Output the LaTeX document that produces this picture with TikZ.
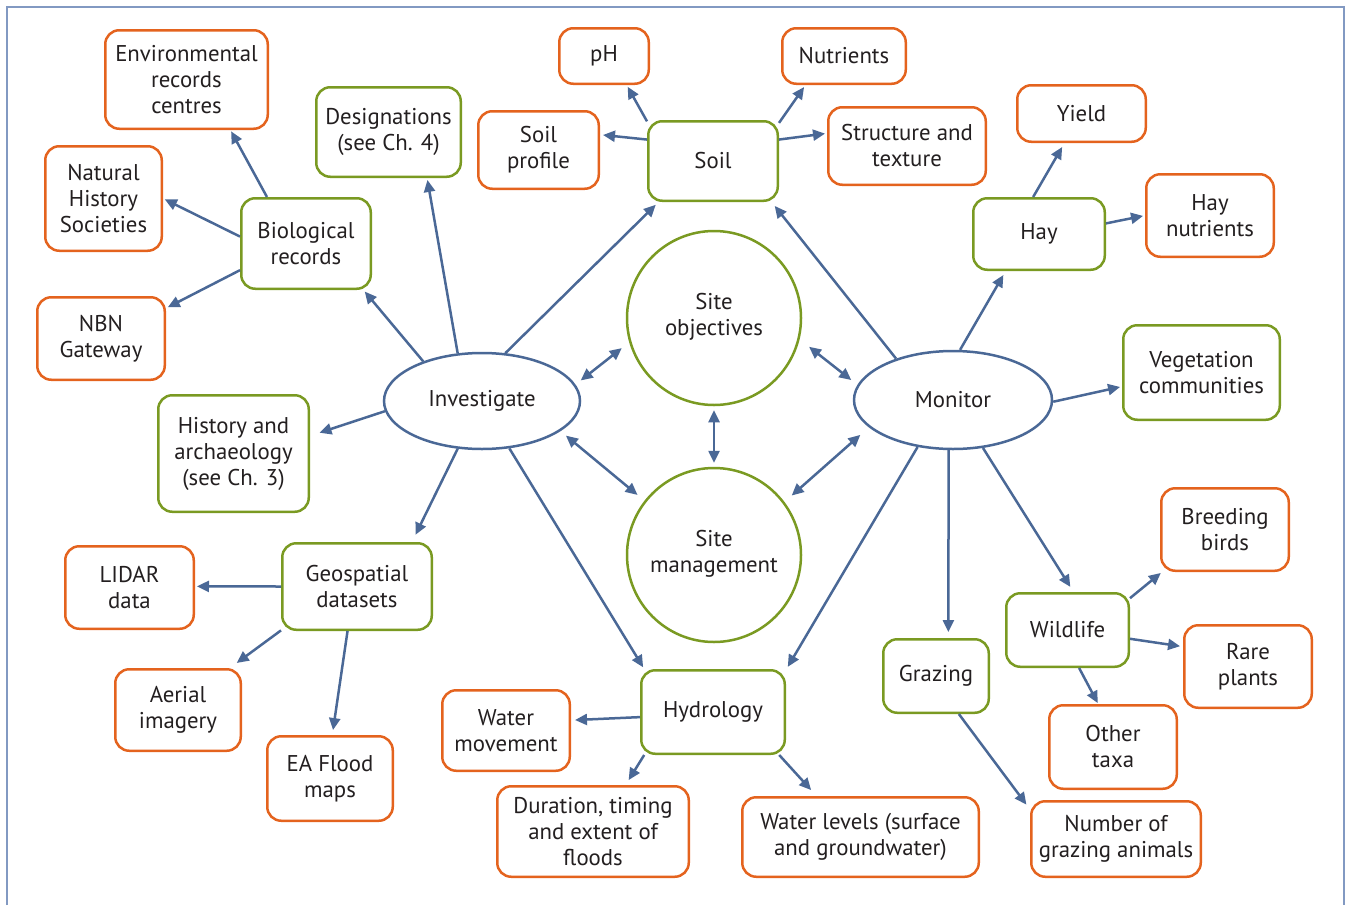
\documentclass[tikz,border=0pt]{standalone}
\usepackage{fontspec}
\setmainfont{PT Sans}
\usetikzlibrary{arrows.meta,shapes.geometric}
\definecolor{orng}{HTML}{E4631E}
\definecolor{grn}{HTML}{7A9A22}
\definecolor{blu}{HTML}{4A6896}
\definecolor{frm}{HTML}{8299C2}
\definecolor{txt}{HTML}{231F20}
\begin{document}
\begin{tikzpicture}[x=1pt,y=-1pt,
  every node/.style={font=\fontsize{22.8}{26}\selectfont, text=txt, align=center, inner sep=2pt},
  sz/.style 2 args={minimum width={#1pt-2.5pt}, minimum height={#2pt-2.5pt}},
  obox/.style={draw=orng, line width=2.5pt, rounded corners=14pt, fill=white},
  gbox/.style={draw=grn, line width=2.5pt, rounded corners=14pt, fill=white},
  circ/.style={circle, draw=grn, line width=2.5pt, minimum size=174pt, inner sep=0pt},
  ell/.style={ellipse, draw=blu, line width=2.5pt, inner sep=0pt},
  arr/.style={draw=blu, line width=2.5pt, -{Triangle[length=12pt,width=11pt]}},
  darr/.style={draw=blu, line width=2.5pt, {Triangle[length=12pt,width=11pt]}-{Triangle[length=12pt,width=11pt]}}]
\useasboundingbox (0,0) rectangle (1346,905);
\draw[frm, line width=2pt] (7,905) -- (7,7) -- (1344,7) -- (1344,905);

% central
\node[circ] (sobj) at (714,318) {Site\\objectives\\[-19pt]};
\node[circ] (smgt) at (714,555) {Site\\management\\[-19pt]};
\node[ell, minimum width=196pt, minimum height=96pt] (inv) at (482,401) {Investigate};
\node[ell, minimum width=198pt, minimum height=98pt] (mon) at (953,400) {Monitor};

% green boxes
\node[gbox, sz={147}{92}] (desig) at (388.5,132) {Designations\\(see Ch. 4)};
\node[gbox, sz={132}{93}] (bio) at (306,243.5) {Biological\\records};
\node[gbox, sz={132}{82}] (soil) at (713,161) {Soil};
\node[gbox, sz={134}{74}] (hay) at (1039,234) {Hay};
\node[gbox, sz={159}{97}] (veg) at (1201.5,372.5) {Vegetation\\communities};
\node[gbox, sz={153}{119}] (hist) at (233.5,453.5) {History and\\archaeology\\(see Ch. 3)};
\node[gbox, sz={152}{89}] (geo) at (357,586.5) {Geospatial\\datasets};
\node[gbox, sz={146}{86}] (hydro) at (713,712) {Hydrology};
\node[gbox, sz={108}{76}] (graz) at (936,676) {Grazing};
\node[gbox, sz={125}{76}] (wild) at (1067.5,630) {Wildlife};

% orange boxes
\node[obox, sz={165}{101}] (env) at (186.5,79.5) {Environmental\\records\\centres};
\node[obox, sz={119}{107}] (nhs) at (103.5,198.5) {Natural\\History\\Societies};
\node[obox, sz={130}{85}] (nbn) at (101,338.5) {NBN\\Gateway};
\node[obox, sz={92}{58}] (ph) at (604,56) {pH};
\node[obox, sz={126}{58}] (nutr) at (844,56) {Nutrients};
\node[obox, sz={123}{80}] (sprof) at (538.5,150) {Soil\\profile};
\node[obox, sz={160}{80}] (struct) at (907,146) {Structure and\\texture};
\node[obox, sz={131}{59}] (yield) at (1081.5,113.5) {Yield};
\node[obox, sz={130}{85}] (haynut) at (1210,215.5) {Hay\\nutrients};
\node[obox, sz={131}{85}] (lidar) at (129.5,587.5) {LIDAR\\data};
\node[obox, sz={128}{84}] (aerial) at (178,710) {Aerial\\imagery};
\node[obox, sz={128}{87}] (ea) at (330,778.5) {EA Flood\\maps};
\node[obox, sz={130}{83}] (wmov) at (506,730.5) {Water\\movement};
\node[obox, sz={194}{93}] (dur) at (593,831.5) {Duration, timing\\and extent of\\floods};
\node[obox, sz={239}{82}] (wlev) at (860.5,837) {Water levels (surface\\and groundwater)};
\node[obox, sz={130}{85}] (breed) at (1225,529.5) {Breeding\\birds};
\node[obox, sz={130}{85}] (rare) at (1248,666.5) {Rare\\plants};
\node[obox, sz={130}{86}] (other) at (1113,747) {Other\\taxa};
\node[obox, sz={172}{78}] (numgr) at (1116,839) {Number of\\grazing animals};

% connectors from Investigate
\draw[arr, shorten >=2pt] (inv.146.5) -- (bio.-39.7);
\draw[arr, shorten >=2pt] (inv.117) -- (desig.-50.3);
\draw[arr, shorten >=4pt] (inv.64.9) -- (soil.-143.8);
\draw[arr, shorten >=10pt] (inv.-174.2) -- (hist.13.4);
\draw[arr, shorten >=8pt] (inv.-117) -- (geo.39.8);
\draw[arr, shorten >=2pt] (inv.-60.3) -- (hydro.148.8);
\draw[darr, shorten <=6.6pt, shorten >=9.4pt] (inv.10.5) -- (sobj.196);
\draw[darr, shorten <=7pt, shorten >=9pt] (inv.-21.5) -- (smgt.142.5);
\draw[darr, shorten <=4pt, shorten >=4pt] (sobj.south) -- (smgt.north);
\draw[darr, shorten <=12pt, shorten >=7.8pt] (sobj.-14.7) -- (mon.171.6);
\draw[darr, shorten <=9.6pt, shorten >=11.4pt] (smgt.37.7) -- (mon.198.3);

% connectors from Monitor
\draw[arr, shorten >=5pt] (mon.144.1) -- (soil.-35.8);
\draw[arr, shorten >=4.6pt] (mon.82) -- (hay.-132.3);
\draw[arr, shorten >=2pt] (mon.-1) -- (veg.190.8);
\draw[arr, shorten >=6pt] (mon.-95.7) -- (graz.72.5);
\draw[arr, shorten >=6pt] (mon.-58.5) -- (wild.81.7);
\draw[arr, shorten >=3.5pt] (mon.-127.6) -- (hydro.30.8);

% secondary connectors
\draw[arr, shorten >=1.5pt] (bio.130.7) -- (env.-49.6);
\draw[arr, shorten >=2pt] (bio.174.4) -- (nhs.0.5);
\draw[arr, shorten >=2pt] (bio.-158.1) -- (nbn.25.9);
\draw[arr, shorten >=2pt] (soil.149) -- (ph.-52.1);
\draw[arr, shorten >=3pt] (soil.162.4) -- (sprof.14.1);
\draw[arr, shorten >=2.5pt] (soil.30.3) -- (nutr.-143.7);
\draw[arr, shorten >=2pt] (soil.18.4) -- (struct.171.3);
\draw[arr, shorten >=4.6pt] (hay.99) -- (yield.-120.1);
\draw[arr, shorten >=2pt] (hay.9.2) -- (haynut.180);
\draw[arr, shorten >=2pt] (geo.180) -- (lidar.1.3);
\draw[arr, shorten >=8.5pt] (geo.-150.4) -- (aerial.39.5);
\draw[arr, shorten >=5pt] (geo.-102.7) -- (ea.87);
\draw[arr, shorten >=4pt] (hydro.-176.9) -- (wmov.9);
\draw[arr, shorten >=5.8pt] (hydro.-148.4) -- (dur.55.5);
\draw[arr, shorten >=8pt] (hydro.-33.5) -- (wlev.137);
\draw[arr, shorten >=1.5pt] (wild.27.5) -- (breed.-146);
\draw[arr, shorten >=3pt] (wild.-8.1) -- (rare.163.7);
\draw[arr, shorten >=1pt] (wild.-73.2) -- (other.109.8);
\draw[arr, shorten >=6pt] (graz.-59.9) -- (numgr.161.6);
\end{tikzpicture}
\end{document}
